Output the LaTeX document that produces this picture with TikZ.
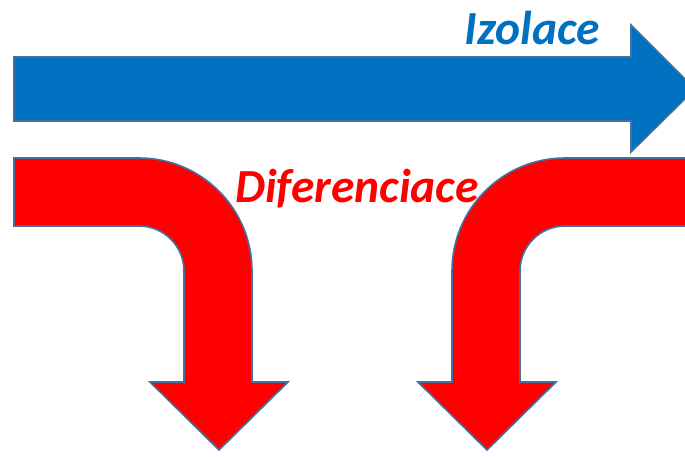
\documentclass[tikz,border=0pt]{standalone}
\usepackage{fontspec}
\setmainfont{Carlito}
\definecolor{outl}{RGB}{65,113,156}
\definecolor{blu}{RGB}{0,112,192}
\definecolor{rd}{RGB}{255,0,0}
\tikzset{
  shapeline/.style={draw=outl, line width=1.6pt, line join=miter},
  lbl/.style={inner sep=0pt, font=\fontsize{47.5}{52}\selectfont\bfseries\itshape}
}
\begin{document}
\begin{tikzpicture}[x=1pt,y=1pt]
\useasboundingbox (0,0) rectangle (685,456);
\clip (0,0) rectangle (685,456);
% blue arrow
\draw[shapeline, fill=blu] (14,399) -- (631,399) -- (631,431) -- (695,367) -- (631,304) -- (631,335) -- (14,335) -- cycle;
% left red arrow
\draw[shapeline, fill=rd] (14,298) -- (139,298) arc[start angle=90,end angle=0,radius=113]
  -- (252,74) -- (288,74) -- (219,6) -- (150,74) -- (184,74) -- (184,185)
  arc[start angle=0,end angle=90,radius=45] -- (14,230) -- cycle;
% right red arrow
\draw[shapeline, fill=rd] (695,298) -- (565,298) arc[start angle=90,end angle=180,radius=113]
  -- (452,74) -- (418,74) -- (487,6) -- (556,74) -- (520,74) -- (520,185)
  arc[start angle=180,end angle=90,radius=45] -- (695,230) -- cycle;
\node[lbl, text=blu, anchor=base east] (izolace) at (600,411) {Izolace};
\node[lbl, text=rd, anchor=base west] (dif) at (235,254) {Diferenciace};
\end{tikzpicture}
\end{document}
